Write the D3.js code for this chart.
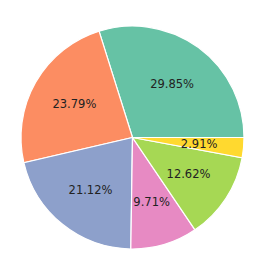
<!DOCTYPE html>
<html><head><meta charset="utf-8">
<script src="https://cdn.jsdelivr.net/npm/d3@7"></script>
<style>body{margin:0;background:#fff}</style>
</head><body>
<svg id="c" width="264" height="275"></svg>
<script>
const labels = ["A","B","C","D","E","F"];
const values = [29.85, 23.79, 21.12, 9.71, 12.62, 2.91];
const colors = ["#66c2a5","#fc8d62","#8da0cb","#e78ac3","#a6d854","#ffd92f"];

const cx = 132.5, cy = 137.5, r = 111.5;
const svg = d3.select("#c");
const g = svg.append("g").attr("transform", `translate(${cx},${cy})`);
const pie = d3.pie().sort(null).value(d => d)
  .startAngle(Math.PI/2).endAngle(Math.PI/2 - 2*Math.PI);
const arcs = pie(values);
const arc = d3.arc().innerRadius(0).outerRadius(r);
const labelArc = d3.arc().innerRadius(r*0.6).outerRadius(r*0.6);
g.selectAll("path").data(arcs).enter().append("path")
  .attr("d", arc)
  .attr("fill", (d,i) => colors[i])
  .attr("stroke", "#fff").attr("stroke-width", 1.2);
const total = d3.sum(values);
g.selectAll("text").data(arcs).enter().append("text")
  .attr("transform", d => `translate(${labelArc.centroid(d)})`)
  .attr("text-anchor", "middle").attr("dominant-baseline", "central")
  .attr("font-family", "'DejaVu Sans', sans-serif").attr("font-size", 11.5).attr("fill", "#222")
  .text(d => (d.value/total*100).toFixed(2) + "%");
</script>
</body></html>
